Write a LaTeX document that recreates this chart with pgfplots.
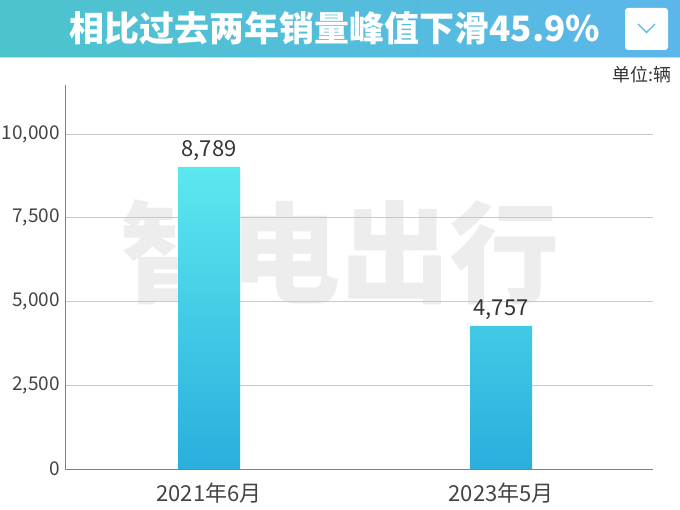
\documentclass[border=0pt]{standalone}
\usepackage{fontspec}
\setmainfont{Noto Sans CJK SC}
\usepackage{pgfplots}
\pgfplotsset{compat=1.18}
\definecolor{banL}{HTML}{4CC4CC}
\definecolor{banR}{HTML}{5BB6EA}
\definecolor{barT}{HTML}{5CE8EF}
\definecolor{barB}{HTML}{2AAEDD}
\definecolor{txt}{HTML}{333333}
\definecolor{tick}{HTML}{444444}
\definecolor{gridc}{HTML}{C8C8C8}
\definecolor{axc}{HTML}{808080}
\begin{document}
\begin{tikzpicture}[x=1pt,y=1pt]
\useasboundingbox (-65,-41) rectangle (615,469);
\fill[left color=banL,right color=banR] (-65,412) rectangle (615,469);
\fill[banL!45!white] (-65,410.5) rectangle (615,412);
\node[text=white, font=\fontsize{35}{38}\selectfont\bfseries] at (270,441) {相比过去两年销量峰值下滑45.9\%};
\fill[white, rounded corners=3pt] (560,419) rectangle (603,461);
\draw[banR, line width=1.2pt] (573,445) -- (581.5,436.5) -- (590,445);
\node[anchor=east, text=txt, font=\fontsize{18}{20}\selectfont, inner sep=0pt] at (607,394) {单位:辆};
\node[text=black!7, font=\fontsize{110}{110}\selectfont\bfseries] at (275,217) {智电出行};
\begin{axis}[
  at={(0,0)}, anchor=south west,
  width=588pt, height=384pt, scale only axis,
  ybar, bar width=62pt,
  xmin=-0.493, xmax=1.52, ymin=0, ymax=11460,
  axis x line=bottom, axis y line=left,
  axis line style={axc, -, line width=0.8pt},
  ytick={0,2500,5000,7500,10000},
  scaled y ticks=false,
  ymajorgrids, grid style={gridc, line width=0.6pt},
  xtick={0,1}, xticklabels={2021年6月,2023年5月},
  major tick length=0pt, tick style={draw=none},
  yticklabel style={anchor=east, inner sep=0pt, xshift=-5pt, text=tick, font=\fontsize{19}{21}\selectfont,
    /pgf/number format/.cd, fixed, precision=0, 1000 sep={,}, assume math mode=true},
  xticklabel style={anchor=north, inner sep=0pt, yshift=-14pt, text=tick, font=\fontsize{22}{24}\selectfont},
]
\addplot[draw=none, top color=barT, bottom color=barB,
  nodes near coords, point meta=explicit symbolic,
  nodes near coords style={anchor=south, inner sep=0pt, yshift=6pt, text=txt, font=\fontsize{22}{24}\selectfont}]
  coordinates {(0,9015)[8,789] (1,4270)[4,757]};
\end{axis}
\end{tikzpicture}
\end{document}
